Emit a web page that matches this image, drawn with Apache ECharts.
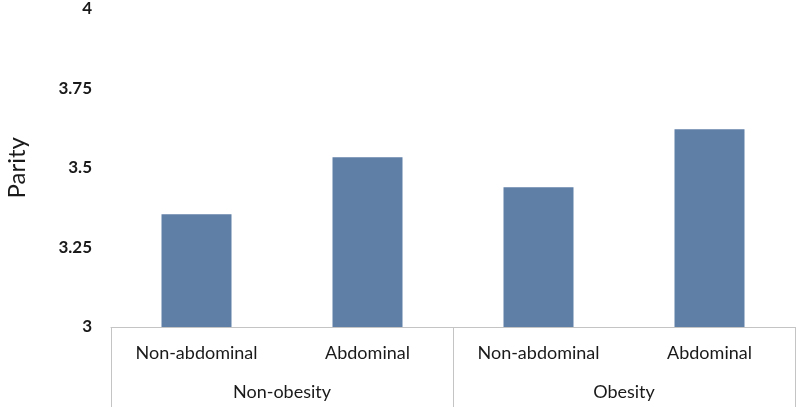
<!DOCTYPE html>
<html><head><meta charset="utf-8">
<script src="https://cdn.jsdelivr.net/npm/echarts@6/dist/echarts.min.js"></script>
<style>html,body{margin:0;padding:0;background:#fff}#c{width:800px;height:407px}</style>
</head><body><div id="c"></div>
<script>
const subCategories = ['Non-abdominal', 'Abdominal', 'Non-abdominal', 'Abdominal'];
const groups = ['Non-obesity', 'Obesity'];
const parityValues = [3.354, 3.533, 3.439, 3.621];
const yTicks = { min: 3, max: 4, interval: 0.25 };

const chart = echarts.init(document.getElementById('c'));
const font = 'Lato, "Open Sans", sans-serif';
chart.setOption({
  animation: false,
  grid: { left: 111, right: 5, top: 8.5, bottom: 80, outerBoundsMode: 'none', containLabel: false },
  xAxis: [
    {
      type: 'category', data: subCategories, position: 'bottom',
      axisLine: { show: true, lineStyle: { color: '#c4c4c4', width: 1 } },
      axisTick: { show: false },
      axisLabel: { margin: 17, fontSize: 18, color: '#1a1a1a', fontFamily: font }
    },
    {
      type: 'category', data: groups, position: 'bottom',
      axisLine: { show: false },
      axisTick: { show: true, length: 80, lineStyle: { color: '#c4c4c4', width: 1 } },
      axisLabel: { margin: 56, fontSize: 18, color: '#1a1a1a', fontFamily: font }
    }
  ],
  yAxis: {
    type: 'value', min: yTicks.min, max: yTicks.max, interval: yTicks.interval,
    name: 'Parity', nameLocation: 'middle', nameGap: 82,
    nameTextStyle: { fontSize: 24, color: '#1a1a1a', fontFamily: font },
    axisLine: { show: false }, axisTick: { show: false }, splitLine: { show: false },
    axisLabel: { margin: 19, fontSize: 17, fontWeight: 'bold', color: '#1a1a1a', fontFamily: font }
  },
  series: [{
    type: 'bar', xAxisIndex: 0, data: parityValues, barWidth: 70,
    itemStyle: { color: '#5f7fa7' }
  }]
});
</script></body></html>
